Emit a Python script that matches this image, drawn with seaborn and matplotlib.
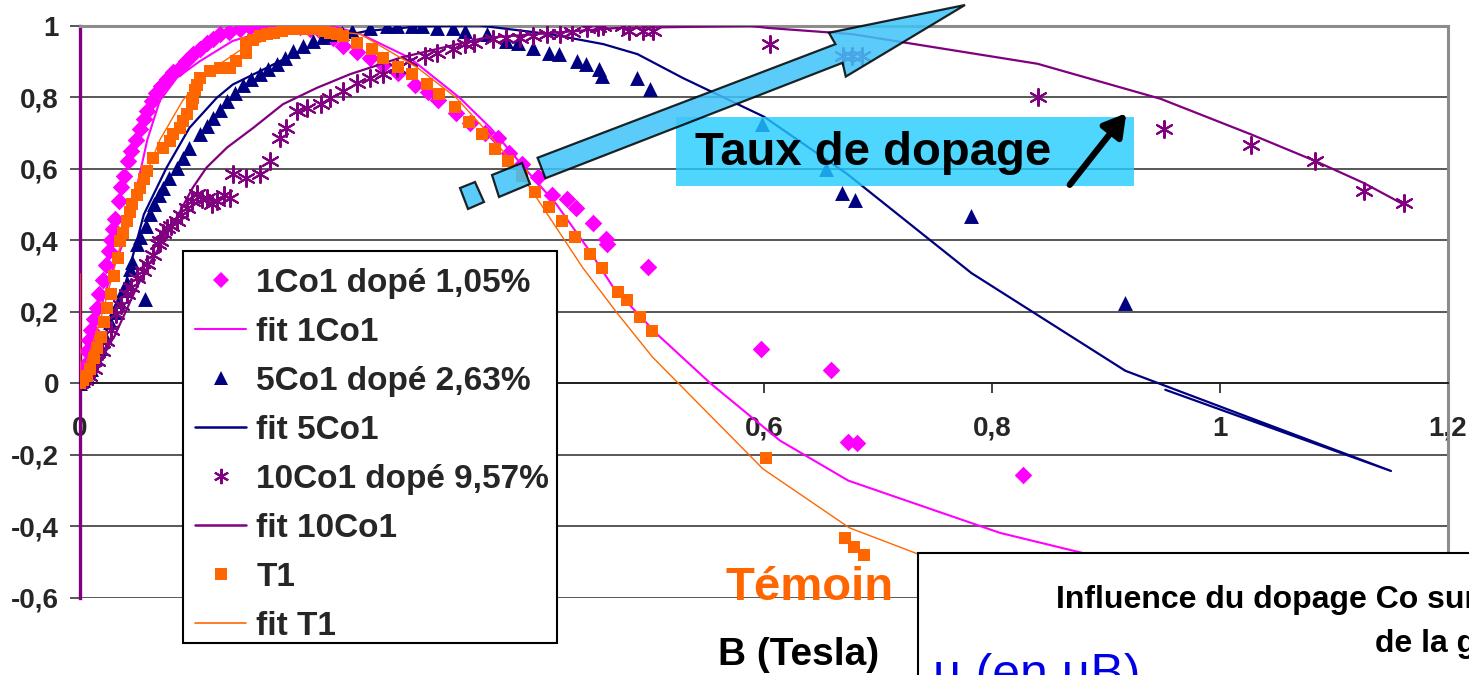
import numpy as np
import matplotlib
matplotlib.use("Agg")
import matplotlib.pyplot as plt
import seaborn as sns
from matplotlib.patches import Polygon, Rectangle, FancyArrowPatch
from matplotlib.lines import Line2D

# ---------------- measurements: normalised magnetisation vs field ----------------
# 1Co1 doped 1.05 %
b_1co1 = [0.000, 0.002, 0.004, 0.006, 0.008, 0.010, 0.012, 0.015, 0.017, 0.020,
          0.023, 0.025, 0.027, 0.029, 0.031, 0.034, 0.036, 0.039, 0.042, 0.045,
          0.049, 0.053, 0.056, 0.059, 0.063, 0.067, 0.071, 0.076, 0.082, 0.088,
          0.093, 0.099, 0.105, 0.111, 0.117, 0.123, 0.131, 0.140, 0.149, 0.158,
          0.166, 0.175, 0.184, 0.193, 0.202, 0.212, 0.222, 0.231, 0.243, 0.254,
          0.266, 0.279, 0.294, 0.305, 0.314, 0.330, 0.342, 0.355, 0.367, 0.376,
          0.388, 0.402, 0.414, 0.427, 0.435, 0.450, 0.461, 0.462, 0.498, 0.597,
          0.659, 0.674, 0.682, 0.827]
m_1co1 = [0.00, 0.02, 0.05, 0.09, 0.12, 0.15, 0.18, 0.21, 0.25, 0.29,
          0.33, 0.37, 0.40, 0.43, 0.46, 0.51, 0.55, 0.58, 0.62, 0.65,
          0.68, 0.71, 0.74, 0.76, 0.79, 0.81, 0.83, 0.85, 0.87, 0.88,
          0.90, 0.92, 0.935, 0.95, 0.962, 0.975, 0.983, 0.99, 0.995, 0.999,
          1.0, 1.0, 0.998, 0.995, 0.99, 0.98, 0.965, 0.943, 0.925, 0.91,
          0.89, 0.867, 0.835, 0.815, 0.792, 0.755, 0.727, 0.70, 0.686, 0.645,
          0.613, 0.576, 0.526, 0.516, 0.491, 0.447, 0.404, 0.39, 0.325, 0.096,
          0.038, -0.163, -0.168, -0.256]

# 5Co1 doped 2.63 %
b_5co1 = [0.000, 0.003, 0.006, 0.010, 0.014, 0.018, 0.022, 0.026, 0.030, 0.034,
          0.038, 0.041, 0.044, 0.046, 0.050, 0.053, 0.057, 0.058, 0.061, 0.065,
          0.069, 0.073, 0.078, 0.085, 0.090, 0.096, 0.105, 0.111, 0.117, 0.123,
          0.129, 0.136, 0.143, 0.150, 0.158, 0.165, 0.173, 0.180, 0.187, 0.196,
          0.204, 0.213, 0.222, 0.230, 0.239, 0.254, 0.269, 0.278, 0.291, 0.300,
          0.313, 0.327, 0.338, 0.357, 0.374, 0.384, 0.397, 0.411, 0.420, 0.436,
          0.444, 0.455, 0.458, 0.489, 0.500, 0.598, 0.654, 0.668, 0.680, 0.782,
          0.917]
m_5co1 = [0.00, 0.01, 0.02, 0.04, 0.07, 0.10, 0.13, 0.17, 0.20, 0.23,
          0.26, 0.28, 0.32, 0.34, 0.388, 0.41, 0.236, 0.44, 0.472, 0.50,
          0.525, 0.547, 0.575, 0.603, 0.63, 0.659, 0.696, 0.72, 0.742, 0.765,
          0.789, 0.81, 0.835, 0.85, 0.864, 0.878, 0.892, 0.91, 0.929, 0.944,
          0.957, 0.967, 0.976, 0.98, 0.985, 0.993, 0.999, 1.0, 1.0, 1.0,
          0.993, 0.993, 0.985, 0.976, 0.957, 0.951, 0.937, 0.923, 0.92, 0.901,
          0.892, 0.878, 0.859, 0.853, 0.822, 0.725, 0.599, 0.532, 0.512, 0.467,
          0.225]

# 10Co1 doped 9.57 %
b_10co1 = [0.000, 0.004, 0.008, 0.012, 0.015, 0.019, 0.023, 0.027, 0.032, 0.036,
           0.041, 0.045, 0.050, 0.055, 0.059, 0.064, 0.068, 0.070, 0.073, 0.076,
           0.080, 0.085, 0.089, 0.094, 0.098, 0.103, 0.107, 0.111, 0.116, 0.120,
           0.126, 0.132, 0.134, 0.146, 0.158, 0.167, 0.175, 0.181, 0.190, 0.199,
           0.211, 0.219, 0.231, 0.243, 0.254, 0.266, 0.278, 0.289, 0.303, 0.313,
           0.327, 0.338, 0.346, 0.362, 0.374, 0.386, 0.397, 0.410, 0.421, 0.432,
           0.445, 0.454, 0.459, 0.476, 0.482, 0.494, 0.503, 0.605, 0.669, 0.677,
           0.686, 0.840, 0.951, 1.027, 1.083, 1.126, 1.161]
m_10co1 = [0.00, 0.01, 0.02, 0.04, 0.063, 0.09, 0.118, 0.15, 0.193, 0.22,
           0.249, 0.27, 0.295, 0.315, 0.333, 0.36, 0.39, 0.398, 0.42, 0.434,
           0.44, 0.453, 0.47, 0.49, 0.51, 0.528, 0.515, 0.518, 0.50, 0.51,
           0.525, 0.518, 0.584, 0.574, 0.584, 0.621, 0.686, 0.714, 0.761, 0.77,
           0.78, 0.798, 0.817, 0.84, 0.854, 0.864, 0.882, 0.90, 0.915, 0.923,
           0.934, 0.948, 0.951, 0.962, 0.965, 0.965, 0.971, 0.976, 0.976, 0.982,
           0.993, 0.996, 0.999, 0.999, 0.985, 0.985, 0.985, 0.948, 0.915, 0.915,
           0.915, 0.80, 0.711, 0.666, 0.622, 0.538, 0.505]

# T1 (undoped reference)
b_t1 = [0.000, 0.003, 0.006, 0.009, 0.012, 0.015, 0.018, 0.021, 0.024, 0.027,
        0.030, 0.033, 0.035, 0.038, 0.041, 0.044, 0.046, 0.050, 0.053, 0.056,
        0.059, 0.064, 0.073, 0.079, 0.082, 0.088, 0.090, 0.094, 0.098, 0.099,
        0.101, 0.103, 0.105, 0.114, 0.123, 0.132, 0.137, 0.146, 0.146, 0.152,
        0.158, 0.164, 0.170, 0.177, 0.184, 0.190, 0.196, 0.202, 0.208, 0.214,
        0.219, 0.225, 0.231, 0.243, 0.256, 0.266, 0.279, 0.291, 0.304, 0.315,
        0.329, 0.341, 0.353, 0.364, 0.375, 0.388, 0.399, 0.411, 0.423, 0.434,
        0.447, 0.458, 0.472, 0.480, 0.491, 0.502, 0.602, 0.671, 0.679, 0.688]
m_t1 = [0.00, 0.01, 0.02, 0.04, 0.07, 0.10, 0.13, 0.17, 0.21, 0.25,
        0.30, 0.35, 0.398, 0.42, 0.453, 0.48, 0.50, 0.525, 0.547, 0.57,
        0.594, 0.63, 0.659, 0.677, 0.696, 0.714, 0.733, 0.752, 0.78, 0.798,
        0.82, 0.835, 0.854, 0.873, 0.882, 0.882, 0.90, 0.923, 0.951, 0.96,
        0.97, 0.975, 0.979, 0.985, 0.99, 0.99, 0.99, 0.99, 0.99, 0.985,
        0.979, 0.975, 0.971, 0.951, 0.934, 0.909, 0.884, 0.864, 0.837, 0.809,
        0.772, 0.731, 0.697, 0.655, 0.62, 0.58, 0.535, 0.494, 0.454, 0.41,
        0.362, 0.323, 0.256, 0.233, 0.186, 0.145, -0.208, -0.431, -0.457, -0.479]

# ---------------- fitted curves ----------------
fb_1co1 = [0, 0.01, 0.02, 0.03, 0.041, 0.05, 0.059, 0.07, 0.085, 0.105, 0.134,
           0.164, 0.193, 0.22, 0.246, 0.289, 0.333, 0.36, 0.392, 0.418, 0.447,
           0.468, 0.506, 0.553, 0.614, 0.674, 0.807, 0.90]
fm_1co1 = [0, 0.12, 0.23, 0.33, 0.416, 0.55, 0.68, 0.79, 0.854, 0.90, 0.957,
           0.985, 0.997, 1.0, 0.976, 0.91, 0.798, 0.714, 0.594, 0.50, 0.37,
           0.267, 0.138, 0.0, -0.16, -0.272, -0.418, -0.49]

fb_5co1 = [0, 0.02, 0.04, 0.056, 0.076, 0.096, 0.12, 0.134, 0.164, 0.193, 0.222,
           0.252, 0.30, 0.35, 0.412, 0.459, 0.489, 0.529, 0.60, 0.673, 0.782,
           0.917, 1.15, 0.952]
fm_5co1 = [0, 0.12, 0.28, 0.472, 0.603, 0.714, 0.798, 0.835, 0.882, 0.929, 0.965,
           0.985, 0.998, 1.0, 0.976, 0.948, 0.92, 0.853, 0.745, 0.585, 0.308,
           0.035, -0.245, -0.018]

fb_10co1 = [0, 0.01, 0.03, 0.05, 0.06, 0.073, 0.088, 0.099, 0.111, 0.129, 0.152,
            0.178, 0.208, 0.237, 0.281, 0.354, 0.412, 0.471, 0.588, 0.604, 0.677,
            0.84, 0.948, 1.027, 1.083, 1.126, 1.161]
fm_10co1 = [0, 0.03, 0.13, 0.27, 0.33, 0.398, 0.482, 0.547, 0.603, 0.659, 0.714,
            0.78, 0.826, 0.864, 0.91, 0.965, 0.979, 0.993, 0.999, 0.993, 0.976,
            0.893, 0.795, 0.696, 0.622, 0.56, 0.50]

fb_t1 = [0, 0, 0.02, 0.035, 0.05, 0.07, 0.09, 0.11, 0.14, 0.17, 0.20, 0.246,
         0.296, 0.33, 0.354, 0.383, 0.412, 0.441, 0.471, 0.502, 0.599, 0.675,
         0.735, 0.76]
fm_t1 = [0.306, 0, 0.20, 0.38, 0.52, 0.68, 0.79, 0.865, 0.93, 0.97, 0.99, 0.976,
         0.882, 0.798, 0.714, 0.603, 0.463, 0.323, 0.197, 0.074, -0.239, -0.404,
         -0.477, -0.49]

# the 0,2 and 0,4 field labels sit under the legend box, so they stay blank
x_ticks = [0, 0.2, 0.4, 0.6, 0.8, 1.0, 1.2]
x_labels = ["0", "", "", "0,6", "0,8", "1", "1,2"]
y_ticks = [-0.6, -0.4, -0.2, 0, 0.2, 0.4, 0.6, 0.8, 1.0]
y_labels = ["-0,6", "-0,4", "-0,2", "0", "0,2", "0,4", "0,6", "0,8", "1"]

labels = ["1Co1 dopé 1,05%", "fit 1Co1", "5Co1 dopé 2,63%", "fit 5Co1",
          "10Co1 dopé 9,57%", "fit 10Co1", "T1", "fit T1"]

MAGENTA = "#FF00FF"
NAVY = "#000080"
PURPLE = "#800080"
ORANGE = "#FF6600"

# ---------------- figure ----------------
sns.set_theme(style="white")
plt.rcParams["font.family"] = ["Liberation Sans", "DejaVu Sans"]
plt.rcParams["font.weight"] = "bold"

W, H = 1469, 675
fig = plt.figure(figsize=(W / 100, H / 100), dpi=100)
fig.patch.set_facecolor("white")


def fx(x):
    return x / W


def fy(y):
    return 1 - y / H


ax = fig.add_axes([fx(80), fy(598), (1448 - 80) / W, (598 - 25.5) / H])
ax.set_facecolor("white")

# measured points and fits, in series order
sns.scatterplot(x=b_1co1, y=m_1co1, marker="D", s=80, color=MAGENTA,
                linewidth=0, ax=ax, zorder=3, legend=False)
sns.lineplot(x=fb_1co1, y=fm_1co1, sort=False, estimator=None, color=MAGENTA,
             lw=1.5, ax=ax, zorder=3.1, legend=False)
sns.scatterplot(x=b_5co1, y=m_5co1, marker="^", s=115, color=NAVY,
                linewidth=0, ax=ax, zorder=3.2, legend=False)
sns.lineplot(x=fb_5co1, y=fm_5co1, sort=False, estimator=None, color=NAVY,
             lw=1.6, ax=ax, zorder=3.3, legend=False)
sns.scatterplot(x=b_10co1, y=m_10co1, marker=(6, 2, 0), s=150, color=PURPLE,
                edgecolor=PURPLE, linewidth=1.5, ax=ax, zorder=3.4, legend=False)
sns.lineplot(x=fb_10co1, y=fm_10co1, sort=False, estimator=None, color=PURPLE,
             lw=1.6, ax=ax, zorder=3.5, legend=False)
sns.scatterplot(x=b_t1, y=m_t1, marker="s", s=75, color=ORANGE,
                linewidth=0, ax=ax, zorder=3.6, legend=False)
sns.lineplot(x=fb_t1, y=fm_t1, sort=False, estimator=None, color=ORANGE,
             lw=1.0, ax=ax, zorder=3.7, legend=False)

ax.set_xlim(0, 1.2)
ax.set_ylim(-0.6, 1.0)
ax.set_xticks(x_ticks)
ax.set_xticklabels(x_labels)
ax.set_yticks(y_ticks)
ax.set_yticklabels(y_labels)
ax.set_xlabel("")
ax.set_ylabel("")
ax.yaxis.grid(True, color="#4a4a4a", lw=1.3)
ax.xaxis.grid(False)
ax.set_axisbelow(True)

ax.spines["bottom"].set_position(("data", 0))
ax.spines["bottom"].set_color("#222222")
ax.spines["bottom"].set_linewidth(1.4)
ax.spines["left"].set_color(PURPLE)
ax.spines["left"].set_linewidth(2.4)
for side in ("top", "right"):
    ax.spines[side].set_color("#8c8c8c")
    ax.spines[side].set_linewidth(2.2)

ax.tick_params(axis="x", direction="out", length=7.2, width=1.2,
               color="#222222", pad=16, labelsize=20, bottom=True)
ax.tick_params(axis="y", direction="out", length=7.2, width=1.3,
               color="#4a4a4a", pad=8, labelsize=20, left=True)
for t in ax.get_xticklabels() + ax.get_yticklabels():
    t.set_fontweight("bold")

# legend: a plain framed box with the entries laid inside it
ax.add_patch(Rectangle((fx(183), fy(643)), (557 - 183) / W, (643 - 251) / H,
                       transform=fig.transFigure, facecolor="white",
                       edgecolor="black", lw=1.5, zorder=9, clip_on=False))
handles = [
    Line2D([], [], ls="none", marker="D", ms=8, color=MAGENTA, mew=0),
    Line2D([], [], color=MAGENTA, lw=1.5),
    Line2D([], [], ls="none", marker="^", ms=10, color=NAVY, mew=0),
    Line2D([], [], color=NAVY, lw=1.8),
    Line2D([], [], ls="none", marker=(6, 2, 0), ms=11, color=PURPLE, mew=1.5),
    Line2D([], [], color=PURPLE, lw=1.8),
    Line2D([], [], ls="none", marker="s", ms=8.5, color=ORANGE, mew=0),
    Line2D([], [], color=ORANGE, lw=1.2),
]
leg = ax.legend(handles, labels, loc="upper left",
                bbox_to_anchor=(fx(183), fy(256)), bbox_transform=fig.transFigure,
                borderaxespad=0, frameon=False,
                prop={"size": 24, "weight": "bold"},
                labelspacing=0.54, handlelength=1.55, handletextpad=0.3,
                borderpad=0.35)
leg.set_zorder(10)

# "Taux de dopage" label box and arrows
fig.add_artist(Rectangle((fx(676), fy(186)), (1134 - 676) / W, (186 - 117) / H,
                         transform=fig.transFigure, facecolor="#22CCFF",
                         alpha=0.8, edgecolor="none", zorder=5))
fig.text(fx(695), fy(165), "Taux de dopage", fontsize=34, fontweight="bold",
         color="black", ha="left", va="baseline", zorder=6)

tail = np.array([541.5, 168.0])
tip = np.array([965.0, 5.0])
L = np.hypot(*(tip - tail))
u = (tip - tail) / L
n = np.array([-u[1], u[0]])


def along(a, b):
    p = tail + a * u + b * n
    return (fx(p[0]), fy(p[1]))


arrow_pts = [along(0, -11), along(L - 135, -10), along(L - 137, -23),
             along(L, 0), along(L - 137, 24), along(L - 135, 10), along(0, 11)]
fig.add_artist(Polygon(arrow_pts, closed=True, transform=fig.transFigure,
                       facecolor="#3EC4F8", alpha=0.85, edgecolor="black",
                       lw=1.6, zorder=6))
for quad in ([(460, 188), (475, 182), (484, 202), (468, 209)],
             [(492, 175), (522, 163), (530, 184), (499, 197)]):
    fig.add_artist(Polygon([(fx(x), fy(y)) for x, y in quad], closed=True,
                           transform=fig.transFigure, facecolor="#3EC4F8",
                           alpha=0.85, edgecolor="black", lw=1.6, zorder=6))

fig.add_artist(FancyArrowPatch((fx(1068), fy(187)), (fx(1128), fy(111)),
                               transform=fig.transFigure,
                               arrowstyle="-|>,head_length=0.6,head_width=0.35",
                               mutation_scale=22, lw=4.5, color="black", zorder=7))

# texts under the plot
fig.text(fx(725), fy(600), "Témoin", fontsize=34, fontweight="bold",
         color=ORANGE, ha="left", va="baseline", zorder=6)
fig.text(fx(718), fy(665), "B (Tesla)", fontsize=28, fontweight="bold",
         color="black", ha="left", va="baseline", zorder=6)

# caption panel at the lower right
fig.add_artist(Rectangle((fx(918), fy(720)), (1520 - 918) / W, (720 - 553) / H,
                         transform=fig.transFigure, facecolor="white",
                         edgecolor="black", lw=1.5, zorder=8))
fig.text(fx(1056), fy(608), "Influence du dopage Co sur", fontsize=23,
         fontweight="bold", color="black", ha="left", va="baseline", zorder=9)
fig.text(fx(1375), fy(652), "de la g", fontsize=23,
         fontweight="bold", color="black", ha="left", va="baseline", zorder=9)
fig.text(fx(933), fy(689), "µ (en µB)", fontsize=36, fontweight="normal",
         color="#0000E6", ha="left", va="baseline", zorder=9)

fig.savefig("out.png", dpi=100, facecolor="white")
